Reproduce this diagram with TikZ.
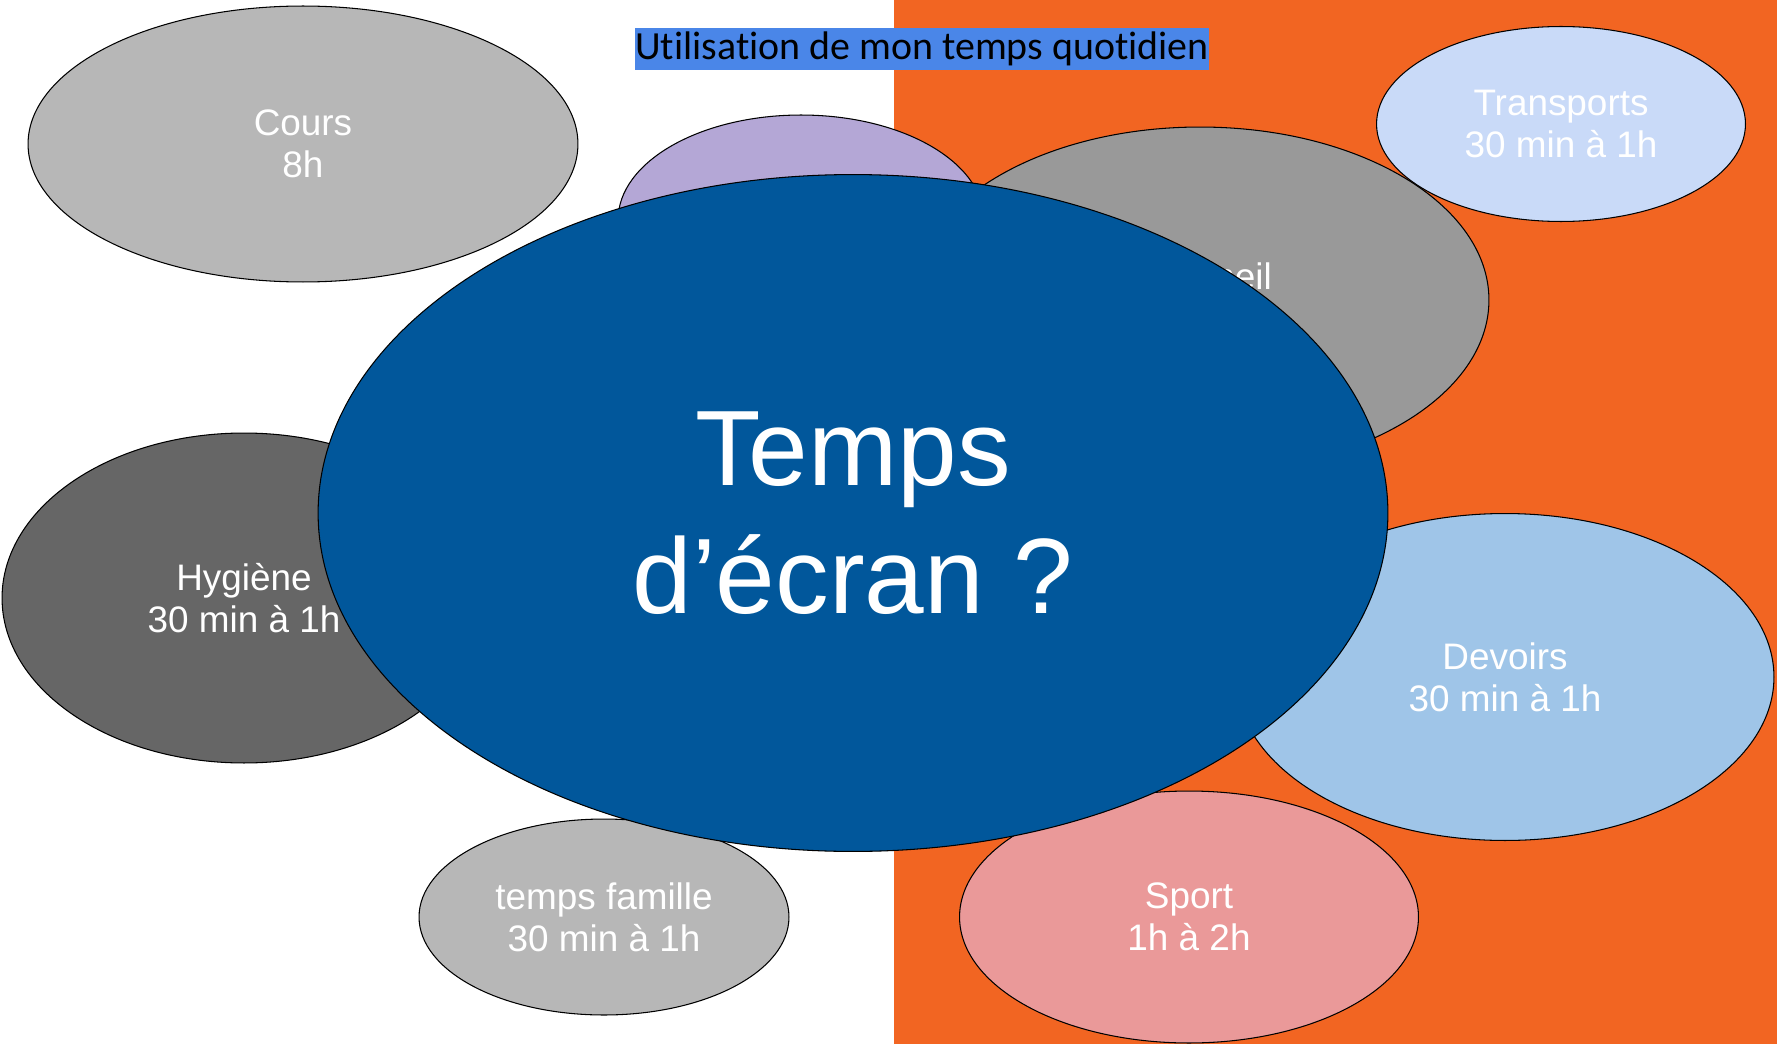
\documentclass[tikz,border=0pt]{standalone}
\usepackage{fontspec}
\usepackage{xcolor}
\usetikzlibrary{positioning,shapes.geometric}
\newfontfamily\arialfont{Liberation Sans}
\newfontfamily\titlefont[Ligatures=NoCommon]{Carlito}
\definecolor{fondorange}{HTML}{F26522}
\definecolor{titrebleu}{HTML}{4A86E8}
\definecolor{ecranbleu}{HTML}{01579B}
\definecolor{gcours}{HTML}{B7B7B7}
\definecolor{grepas}{HTML}{B4A7D6}
\definecolor{gsommeil}{HTML}{999999}
\definecolor{gtransp}{HTML}{C9DAF8}
\definecolor{ghygiene}{HTML}{666666}
\definecolor{gdevoirs}{HTML}{9FC5E8}
\definecolor{gsport}{HTML}{EA9999}
\tikzset{
    bulle/.style={ellipse,draw=black,line width=0.6pt,inner sep=0pt,
        text=white,align=center,font=\arialfont\fontsize{21}{24}\selectfont},
}

\begin{document}
\begin{tikzpicture}[x=0.02cm,y=-0.02cm]
            % Fond
            \useasboundingbox (0,0) rectangle (1777,1044);
            \fill[white] (0,0) rectangle (894,1044);
            \fill[fondorange] (894,0) rectangle (1777,1044); % moitie droite
            % Titre
            \node[fill=titrebleu,inner sep=0pt,minimum width=11.48cm,minimum height=0.86cm,
                font=\titlefont\fontsize{22.7}{25}\selectfont] (titre) at (922,49)
                {Utilisation de mon temps quotidien};
            % Activites
            \node[bulle,fill=gcours,minimum width=11cm,minimum height=5.52cm] (cours) at (303,144) {Cours\\8h};
            \node[bulle,fill=grepas,minimum width=7.32cm,minimum height=4.2cm] (repas) at (801,220) {};
            \node[bulle,fill=gtransp,minimum width=7.38cm,minimum height=3.9cm] (transports) at (1561,124) {Transports\\30 min à 1h};
            \node[bulle,fill=gsommeil,minimum width=11.56cm,minimum height=6.92cm] (sommeil) at (1200,300) {\raisebox{-0.16cm}{Sommeil}\\\strut};
            \node[bulle,fill=ghygiene,minimum width=9.68cm,minimum height=6.6cm] (hygiene) at (244,598) {Hygiène\\30 min à 1h};
            \node[bulle,fill=gsport,minimum width=9.18cm,minimum height=5.04cm] (sport) at (1189,917) {Sport\\1h à 2h};
            \node[bulle,fill=gdevoirs,minimum width=10.76cm,minimum height=6.54cm] (devoirs) at (1505,677) {Devoirs\\30 min à 1h};
            \node[bulle,fill=gcours,minimum width=7.4cm,minimum height=3.92cm] (famille) at (604,917) {temps famille\\30 min à 1h};
            % Centre
            \node[bulle,fill=ecranbleu,minimum width=21.4cm,minimum height=13.54cm,
                font=\arialfont\fontsize{61}{72.5}\selectfont] (ecran) at (853,513) {Temps\\d’écran ?};
           \end{tikzpicture}
\end{document}
